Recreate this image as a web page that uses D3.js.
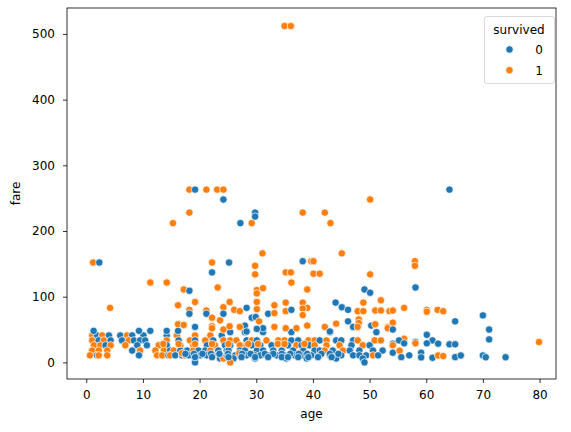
<!DOCTYPE html>
<html>
<head>
<meta charset="utf-8">
<script src="https://cdn.jsdelivr.net/npm/d3@7"></script>
<style>
  body { margin: 0; background: #fff; }
  text { font-family: "DejaVu Sans", sans-serif; }
</style>
</head>
<body>
<svg width="571" height="432"></svg>
<script>
// titanic: age vs fare, coloured by survived
// each row: [age, fare, survived]
const outliers = [
  [35.0,512,1],[36.1,512,1],[18.2,263,1],[19.2,263,0],[21.2,263,1],[23.1,263,1],[24.2,263,1],
  [24.2,248,0],[18.2,228,1],[15.3,212,1],[27.2,212,0],[29.2,212,1],[29.8,228,0],[29.8,222,0],
  [38.2,228,1],[1.2,152,1],[2.3,152,0],[22.2,152,1],[25.2,152,0],[31.1,166,1],[29.8,147,1],
  [29.8,134,1],[22.2,137,0],[35.2,137,1],[36.1,137,1],[38.2,154,0],[39.7,154,1],[64.1,263,0],
  [50.1,248,1],[42.1,228,1],[43.1,212,1],[45.1,166,1],[40.1,154,1],[58.0,154,1],[58.0,147,1],
  [40.1,135,1],[41.2,135,1],[50.1,134,1]
];

const midYoung = [
  [11.3,121.5,1],[14.2,121.5,1],[17.2,111,1],[18.2,109,0],[23.2,114,1],[4.2,83,1],[16.2,87,1],
  [19.2,92,1],[18.2,80,1],[18.2,74,0],[21.2,79,1],[21.2,74,0],[24.2,84,1],[24.2,74,0],
  [22.2,68,1],[23.6,64,1],[16.2,58,1],[17.2,57,1],[19.2,54,0],[22.2,55,1],[22.2,52,1],
  [24.2,50,1],[1.3,48,0],[9.3,48,0],[11.3,48,0],[14.2,48,0],[16.2,48,0]
];

const midOld = [
  [36.2,121.5,1],[30.1,110,1],[31.2,113,1],[30.1,105,1],[39.0,111,1],[49.1,111,0],[50.1,106,0],
  [52.0,94.5,1],[25.3,92,1],[30.1,92,1],[33.2,87,1],[35.2,91,1],[38.2,91,1],[39.0,83,1],
  [38.2,82,1],[44.0,91,0],[45.1,84,0],[46.2,80,0],[48.9,91,1],[26.1,80,1],[27.1,78,1],
  [28.3,83,0],[30.1,81,1],[32.1,74,0],[33.2,75,1],[35.2,78,1],[36.2,80,0],[38.2,72,1],
  [47.9,78,1],[48.9,78,1],[51.0,79,1],[52.0,79,1],[53.5,78,1],[29.2,68,0],[29.9,69,0],
  [30.5,62.5,1],[46.2,62.5,0],[48.1,65.5,1],[48.1,60,1],[50.3,56,0],[51.0,58,1],[28.0,56,0],
  [25.3,55,1],[27.1,54,1],[31.2,52,0],[30.1,51,0],[33.2,54,1],[35.2,52,1],[37.1,52,1],
  [39.0,56,1],[42.1,54,1],[44.1,59,1],[47.1,54,0],[47.9,54,1],[53.2,54,1],[28.3,47,0],
  [43.0,47,0],
  [58.1,114,0],[54.1,79,1],[56.1,83,1],[60.1,80,1],[60.1,77,1],[62.0,80,1],[63.0,78,1],
  [54.1,60.5,1],[53.2,52,1],[54.1,50,0],[65.1,62.5,0],[70.0,71.5,0],[71.1,50,0],[60.1,42,0]
];

const lowOld = [
  [71.1,35,0],[79.9,31,1],[61.1,33.5,0],[62.1,28.5,0],[58.1,31,0],[58.1,29,1],[56.1,36,1],
  [54.1,28.5,0],[54.1,26,1],[55.2,33.5,0],[56.1,29,0],[60.1,29,0],[64.1,27.5,0],[65.1,27.5,0],
  [54.1,14.7,0],[55.3,17.8,1],[55.6,8,0],[57.0,10.7,0],[59.1,14.7,0],[59.1,7.6,0],[61.1,7,0],
  [62.1,10.5,1],[63.0,9.6,1],[65.1,8,0],[66.1,10.5,0],[70.0,10.5,0],[70.5,7.8,0],[74.0,7.8,0]
];

const lowYoung = [
  [1.05,41,1],[1.9,41,0],[2.8,41,1],[4.0,41,0],[6.0,41,0],[7.2,41,1],[8.1,41,0],[10.1,41,0],
  [14.2,41,0],[16.0,41,1],[19.2,41,1],[21.9,41,1],[23.9,41,0],
  [1.05,33.5,1],[2.2,33.5,0],[3.1,33.5,1],[4.3,33.5,0],[6.3,33.5,0],[7.5,33.5,1],[8.4,33.5,0],
  [9.5,33.5,0],[10.4,33.5,0],[14.2,33.5,1],[16.3,33.5,0],[18.3,33.5,1],[19.2,33.5,0],
  [21.0,33.5,1],[22.4,33.5,0],[24.2,33.5,1],
  [1.35,26,1],[2.5,26,1],[3.4,26,0],[4.3,26,1],[6.9,26,1],[9.0,26,0],[10.7,26,0],[12.8,26,1],
  [14.2,26,0],[16.6,26,1],[18.9,26,1],[21.3,26,0],[22.7,26,1],[24.5,26,0],
  [1.05,18,1],[2.2,18,1],[3.7,18,1],[8.1,18,0],[9.5,18,1],[12.2,18,1],[13.7,18,1],[14.8,18,0],
  [15.4,18,1],[16.6,18,0],[17.8,18,0],[18.9,18,1],[19.8,18,0],[21.0,18,0],[21.9,18,1],
  [23.3,18,0],[24.8,18,0],
  [0.65,10.7,1],[1.9,10.7,0],[2.2,10.7,1],[3.7,10.7,1],[9.3,10.7,0],[12.5,10.7,1],[13.4,10.7,1],
  [14.5,10.7,0],[14.8,10.7,1],[15.7,10.7,0],[16.9,10.7,0],[17.5,10.7,1],[18.1,10.7,0],
  [19.2,10.7,0],[20.1,10.7,0],[21.3,10.7,0],[22.4,10.7,1],[23.6,10.7,0],[24.8,10.7,0],
  [19.2,6,0],[23.6,6,0],[24.2,6,1],[19.2,0,0]
];

const lowMid = [
  [25.4,46,0],[28.0,46,0],[31.2,46,0],[36.2,46,0],[43.0,46,0],[51.2,46,0],
  [25.4,33.5,1],[26.5,33.5,1],[28.3,33.5,0],[29.2,33.5,1],[30.1,33.5,0],[31.8,33.5,1],
  [33.9,33.5,1],[35.0,33.5,1],[36.2,33.5,0],[37.4,33.5,0],[39.2,33.5,1],[40.3,33.5,1],
  [41.2,33.5,0],[42.4,33.5,1],[44.1,33.5,0],[45.0,33.5,0],[47.1,33.5,0],[47.9,33.5,1],
  [50.9,33.5,1],[52.0,33.5,1],
  [25.4,26,0],[27.1,26,1],[28.3,26,1],[29.2,26,0],[30.7,26,0],[32.7,26,0],[34.8,26,1],
  [35.6,26,0],[37.1,26,1],[38.0,26,0],[39.4,26,0],[40.3,26,1],[42.4,26,1],[44.7,26,1],
  [46.8,26,0],[48.8,26,1],[50.0,26,0],
  [25.1,18,0],[27.1,18,0],[28.0,18,0],[30.1,18,0],[31.2,18,0],[33.0,18,0],[34.5,18,0],
  [36.5,18,0],[38.3,18,0],[40.3,18,0],[41.2,18,0],[42.1,18,1],[43.5,18,0],[45.3,18,1],
  [46.5,18,0],[48.2,18,0],[50.6,18,0],[52.3,18,0],
  [24.8,10.7,0],[26.3,10.7,0],[28.3,10.7,0],[29.8,10.7,0],[30.7,10.7,0],[32.1,10.7,0],
  [33.6,10.7,0],[35.0,10.7,0],[36.8,10.7,0],[38.0,10.7,0],[39.7,10.7,0],[41.2,10.7,0],
  [43.0,10.7,0],[45.0,10.7,0],[47.1,10.7,0],[48.2,10.7,0],[49.4,10.7,0],[50.6,10.7,1],
  [51.5,10.7,0],
  [26.0,6,0],[29.8,6,0],[35.3,6,0],[38.9,6,0],[44.1,6,0],[48.8,6,0],[25.4,0,1],[49.1,0,0]
];

// the thick bottom stripe between ages ~14 and ~45
const lowBand = [
  [13.6,28,1],[16.3,28,1],[19.2,28,1],[22.2,28,1],[25.1,28,1],[28.6,28,1],[30.3,28,1],
  [33.8,28,1],[35.0,28,1],[38.5,28,1],
  [16.9,14,1],[17.5,13,0],[19.0,13,0],[20.5,13,0],[22.0,13,0],[23.5,13,0],[25.0,13,0],
  [27.0,14,1],[27.5,13,0],[29.0,13,0],[31.5,13,0],[33.0,13,0],[34.5,13,0],[36.0,13,0],
  [37.5,13,0],[39.0,13,0],[41.5,13,0],[43.0,13,0],[44.5,13,0],
  [19.2,8,0],[22.2,8,0],[25.1,8,0],[27.4,8,0],[29.8,8,0],[32.1,8,0],[34.5,8,0],[35.6,8,0],
  [37.4,8,0],[39.2,8,0],[40.9,8,0],[43.3,8,0]
];

const xTicks = [0, 10, 20, 30, 40, 50, 60, 70, 80];
const yTicks = [0, 100, 200, 300, 400, 500];
const hueLevels = [0, 1];
const palette = ['#1f77b4', '#ff7f0e'];

const svg = d3.select('svg');
const plotLeft = 67, plotRight = 556, plotTop = 8, plotBottom = 379;
const fontSize = '12px';

const x = d3.scaleLinear().domain([-3.4, 82.9]).range([plotLeft, plotRight]);
const y = d3.scaleLinear().domain([-25.3, 539.5]).range([plotBottom, plotTop]);
const color = d3.scaleOrdinal().domain(hueLevels).range(palette);

const rows = [].concat(lowYoung, lowMid, lowBand, lowOld, midYoung, midOld, outliers);

// points
svg.append('g')
  .selectAll('circle')
  .data(rows)
  .join('circle')
  .attr('cx', d => x(d[0]))
  .attr('cy', d => y(d[1]))
  .attr('r', 3.7)
  .attr('fill', d => color(d[2]))
  .attr('stroke', '#fff')
  .attr('stroke-width', 0.7);

// axes
const xAxis = svg.append('g')
  .attr('transform', `translate(0,${plotBottom})`)
  .call(d3.axisBottom(x).tickValues(xTicks).tickSize(4).tickPadding(7));
const yAxis = svg.append('g')
  .attr('transform', `translate(${plotLeft},0)`)
  .call(d3.axisLeft(y).tickValues(yTicks).tickSize(4).tickPadding(8));

[xAxis, yAxis].forEach(g => {
  g.select('.domain').remove();
  g.selectAll('line').attr('stroke', '#000').attr('stroke-width', 0.8);
  g.selectAll('text')
    .attr('fill', '#000')
    .style('font-size', fontSize)
    .style('font-family', '"DejaVu Sans", sans-serif');
});

// frame
svg.append('rect')
  .attr('x', plotLeft).attr('y', plotTop)
  .attr('width', plotRight - plotLeft).attr('height', plotBottom - plotTop)
  .attr('fill', 'none')
  .attr('stroke', '#000')
  .attr('stroke-width', 0.8);

// axis labels
svg.append('text')
  .attr('x', (plotLeft + plotRight) / 2)
  .attr('y', 418)
  .attr('text-anchor', 'middle')
  .style('font-size', fontSize)
  .text('age');

svg.append('text')
  .attr('transform', `translate(20,${(plotTop + plotBottom) / 2}) rotate(-90)`)
  .attr('text-anchor', 'middle')
  .style('font-size', fontSize)
  .text('fare');

// legend
const legend = svg.append('g');
legend.append('rect')
  .attr('x', 484.5).attr('y', 16.5)
  .attr('width', 70).attr('height', 67)
  .attr('rx', 2.5)
  .attr('fill', '#fff')
  .attr('fill-opacity', 0.8)
  .attr('stroke', '#d0d0d0')
  .attr('stroke-width', 0.8);

legend.append('text')
  .attr('x', 519)
  .attr('y', 33.5)
  .attr('text-anchor', 'middle')
  .style('font-size', fontSize)
  .text('survived');

hueLevels.forEach((lvl, i) => {
  const cy = 49.5 + i * 20.7;
  legend.append('circle')
    .attr('cx', 509.5).attr('cy', cy)
    .attr('r', 3.7)
    .attr('fill', color(lvl))
    .attr('stroke', '#fff')
    .attr('stroke-width', 0.7);
  legend.append('text')
    .attr('x', 539)
    .attr('y', cy + 4.3)
    .attr('text-anchor', 'middle')
    .style('font-size', fontSize)
    .text(lvl);
});
</script>
</body>
</html>
